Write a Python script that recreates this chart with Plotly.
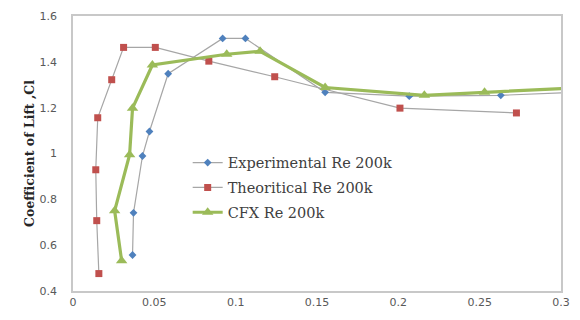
import plotly.graph_objects as go

exp_x = [0.0366, 0.0372, 0.0427, 0.047, 0.0585, 0.092, 0.106, 0.155, 0.2067, 0.263, 0.32]
exp_y = [0.557, 0.741, 0.989, 1.096, 1.348, 1.502, 1.502, 1.267, 1.25, 1.254, 1.27]

th_x = [0.0159, 0.0146, 0.014, 0.0152, 0.0238, 0.0311, 0.0506, 0.0835, 0.124, 0.201, 0.2726]
th_y = [0.476, 0.707, 0.929, 1.156, 1.322, 1.463, 1.463, 1.403, 1.335, 1.198, 1.177]

cfx_x = [0.0299, 0.0256, 0.0348, 0.0366, 0.0488, 0.0945, 0.115, 0.155, 0.216, 0.253, 0.32]
cfx_y = [0.532, 0.75, 0.995, 1.198, 1.386, 1.433, 1.446, 1.288, 1.254, 1.267, 1.29]

fig = go.Figure()
fig.add_trace(go.Scatter(x=exp_x, y=exp_y, mode="lines+markers", name="Experimental Re 200k",
                         legendgroup="a",
                         line=dict(color="#a6a6a6", width=1.2),
                         marker=dict(symbol="diamond", size=6, color="#4f81bd")))
fig.add_trace(go.Scatter(x=th_x, y=th_y, mode="lines+markers", name="Theoritical Re 200k",
                         legendgroup="b",
                         line=dict(color="#a6a6a6", width=1.2),
                         marker=dict(symbol="square", size=7, color="#c0504d")))
fig.add_trace(go.Scatter(x=cfx_x, y=cfx_y, mode="lines+markers", name="CFX Re 200k",
                         legendgroup="c",
                         line=dict(color="#9bbb59", width=3.2),
                         marker=dict(symbol="triangle-up", size=10, color="#9bbb59")))

fig.update_layout(
    width=580, height=320,
    margin=dict(l=73, r=15, t=10, b=29),
    paper_bgcolor="white", plot_bgcolor="white",
    showlegend=True,
    legend=dict(x=0.235, y=0.525, xanchor="left", yanchor="top",
                font=dict(family="DejaVu Serif", size=14.5, color="#404040"),
                bgcolor="rgba(0,0,0,0)", itemwidth=30, tracegroupgap=3,
                traceorder="grouped"),
    xaxis=dict(range=[0, 0.3], dtick=0.05, tick0=0, showgrid=False, zeroline=False,
               showline=True, linecolor="#c8c8c8", linewidth=1.5, mirror=True,
               ticks="", tickfont=dict(family="DejaVu Sans", size=11, color="#595959")),
    yaxis=dict(range=[0.4, 1.6], dtick=0.2, tick0=0.4, showgrid=False, zeroline=False,
               showline=True, linecolor="#c8c8c8", linewidth=1.5, mirror=True,
               ticks="", ticklabelstandoff=12,
               tickfont=dict(family="DejaVu Sans", size=11, color="#595959"),
               title=dict(text="<b>Coefficient of Lift ,Cl</b>", standoff=2,
                          font=dict(family="DejaVu Serif", size=12.5, color="#262626"))),
)

fig.write_html("out.html")
